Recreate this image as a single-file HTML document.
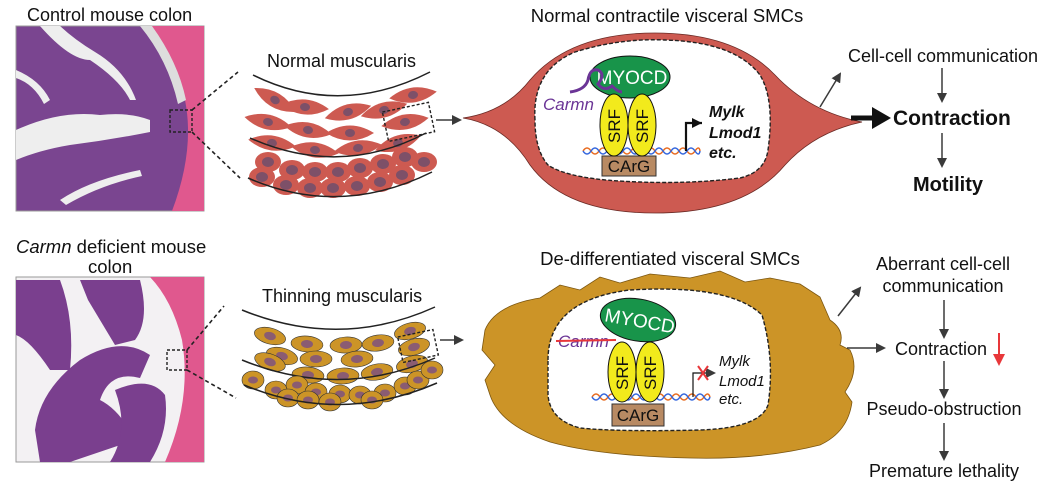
<!DOCTYPE html>
<html><head><meta charset="utf-8"><style>
html,body{margin:0;padding:0;background:#fff;}
svg{display:block;font-family:"Liberation Sans",Arial,sans-serif;}
</style></head><body>
<svg width="1054" height="490" viewBox="0 0 1054 490" xmlns="http://www.w3.org/2000/svg">
<defs>
<marker id="ah" markerWidth="10" markerHeight="10" refX="8" refY="5" orient="auto" markerUnits="userSpaceOnUse"><path d="M0,0 L10,5 L0,10Z" fill="#3a3a3a"/></marker>
<marker id="ahr" markerWidth="12" markerHeight="12" refX="10" refY="6" orient="auto" markerUnits="userSpaceOnUse"><path d="M0,0 L12,6 L0,12Z" fill="#e8373a"/></marker>
<marker id="ahb" markerWidth="12" markerHeight="12" refX="10" refY="5" orient="auto" markerUnits="userSpaceOnUse"><path d="M0,0 L10,5 L0,10Z" fill="#111"/></marker>
<g id="sp"><path d="M-24,0 Q0,-15 24,0 Q0,15 -24,0Z" fill="#cd5a51"/><ellipse cx="0" cy="0" rx="5" ry="4" fill="#7d5068"/></g>
<g id="rc"><ellipse cx="0" cy="0" rx="13" ry="10" fill="#cd5a51"/><ellipse cx="0" cy="0" rx="6" ry="5" fill="#7d5068"/></g>
<g id="oc"><ellipse cx="0" cy="0" rx="16" ry="8" fill="#cc9427" stroke="#333" stroke-width="0.6"/><ellipse cx="0" cy="0" rx="6" ry="4" fill="#8a5c72"/></g>
<g id="orc"><ellipse cx="0" cy="0" rx="11" ry="9" fill="#cc9427" stroke="#333" stroke-width="0.6"/><ellipse cx="0" cy="0" rx="5" ry="3.5" fill="#8a5c72"/></g>
</defs>

<!-- top histology -->
<text x="27" y="21" font-size="18" fill="#111">Control mouse colon</text>
<rect x="16" y="26" width="188" height="185" fill="#7a4590" stroke="#999"/>
<path d="M16,130 Q60,110 100,115 Q130,112 150,120 L150,132 Q110,140 70,145 Q40,150 16,160Z" fill="#eee"/>
<path d="M40,26 Q70,60 90,60 Q120,80 130,100 L136,100 Q125,70 95,52 Q75,40 60,26Z" fill="#eee"/>
<path d="M16,70 Q40,80 50,100 L44,104 Q34,84 16,78Z" fill="#eee"/>
<path d="M60,200 Q90,180 140,170 L142,176 Q100,185 66,205Z" fill="#eee"/>
<path d="M150,26 L204,26 L204,211 L172,211 Q195,150 185,100 Q175,60 150,26Z" fill="#e0588e"/>
<path d="M140,26 L152,26 Q178,62 186,100 L178,104 Q168,60 140,26Z" fill="#ddd"/>
<rect x="170" y="110" width="22" height="22" fill="none" stroke="#222" stroke-dasharray="3,2" stroke-width="1.4"/>
<line x1="192" y1="110" x2="238" y2="72" stroke="#222" stroke-width="1.6" stroke-dasharray="4,3"/>
<line x1="192" y1="132" x2="240" y2="178" stroke="#222" stroke-width="1.6" stroke-dasharray="4,3"/>

<!-- normal muscularis -->
<text x="267" y="67" font-size="18" fill="#111">Normal muscularis</text>
<path d="M253,75 Q340,118 430,72" fill="none" stroke="#222" stroke-width="1.5"/>
<use href="#sp" transform="translate(275,100) rotate(30)"/>
<use href="#sp" transform="translate(305,107) rotate(5)"/>
<use href="#sp" transform="translate(348,112) rotate(-15)"/>
<use href="#sp" transform="translate(384,110) rotate(-15)"/>
<use href="#sp" transform="translate(413,95) rotate(-8)"/>
<use href="#sp" transform="translate(268,122) rotate(12)"/>
<use href="#sp" transform="translate(308,130) rotate(10)"/>
<use href="#sp" transform="translate(350,133) rotate(0)"/>
<use href="#sp" transform="translate(405,122) rotate(-10)"/>
<use href="#sp" transform="translate(272,143) rotate(8)"/>
<use href="#sp" transform="translate(315,150) rotate(8)"/>
<use href="#sp" transform="translate(358,148) rotate(-8)"/>
<use href="#sp" transform="translate(398,143) rotate(-18)"/>
<path d="M250,138 Q340,178 426,133" fill="none" stroke="#222" stroke-width="1.5"/>
<use href="#rc" transform="translate(268,162)"/>
<use href="#rc" transform="translate(292,170)"/>
<use href="#rc" transform="translate(315,172)"/>
<use href="#rc" transform="translate(338,172)"/>
<use href="#rc" transform="translate(360,168)"/>
<use href="#rc" transform="translate(383,164)"/>
<use href="#rc" transform="translate(405,157)"/>
<use href="#rc" transform="translate(424,162)"/>
<use href="#rc" transform="translate(262,177)"/>
<use href="#rc" transform="translate(286,185)"/>
<use href="#rc" transform="translate(310,188)"/>
<use href="#rc" transform="translate(333,188)"/>
<use href="#rc" transform="translate(357,186)"/>
<use href="#rc" transform="translate(380,182)"/>
<use href="#rc" transform="translate(402,175)"/>
<path d="M248,178 Q340,218 432,172" fill="none" stroke="#222" stroke-width="1.5"/>
<rect x="385" y="107" width="47" height="30" fill="none" stroke="#222" stroke-dasharray="3,2" stroke-width="1.4" transform="rotate(-12 408 122)"/>
<line x1="436" y1="120" x2="460" y2="120" stroke="#3a3a3a" stroke-width="1.5" marker-end="url(#ah)"/>

<!-- normal SMC -->
<text x="667" y="22" font-size="18.5" fill="#111" text-anchor="middle">Normal contractile visceral SMCs</text>
<path d="M463,118 Q505,112 530,80 Q570,33 655,33 Q735,33 775,75 Q810,112 862,122 Q815,132 785,165 Q745,213 655,213 Q565,213 530,165 Q505,125 463,118Z" fill="#cd5a51" stroke="#6a2a25" stroke-width="0.8"/>
<path d="M535,120 Q532,70 575,52 Q620,38 665,40 Q735,42 760,75 Q775,100 768,150 Q765,172 740,178 Q690,184 640,182 Q570,180 548,165 Q535,150 535,120Z" fill="#fff" stroke="#222" stroke-width="1.4" stroke-dasharray="4,2"/>
<ellipse cx="630" cy="77" rx="40" ry="21" fill="#18944a" stroke="#111"/>
<text x="632" y="84" font-size="19" fill="#fff" text-anchor="middle">MYOCD</text>
<path d="M570,92 Q585,90 588,80 Q590,68 598,70 Q606,74 598,84 Q604,92 612,86 Q618,92 622,92" fill="none" stroke="#6b3596" stroke-width="3"/>
<text x="543" y="110" font-size="17" font-style="italic" fill="#6b3596">Carmn</text>
<path d="M583,151 q4,-6 8,0 t8,0 t8,0 t8,0 t8,0 t8,0 t8,0 t8,0 t8,0 t8,0 t8,0 t8,0 t8,0 t8,0 t5,0" fill="none" stroke="#e86a1e" stroke-width="1.5"/>
<path d="M583,151 q4,6 8,0 t8,0 t8,0 t8,0 t8,0 t8,0 t8,0 t8,0 t8,0 t8,0 t8,0 t8,0 t8,0 t8,0 t5,0" fill="none" stroke="#3366dd" stroke-width="1.5"/>
<rect x="602" y="156" width="54" height="20" fill="#b88a63" stroke="#333"/>
<text x="629" y="172" font-size="17" fill="#111" text-anchor="middle">CArG</text>
<ellipse cx="614" cy="125" rx="14" ry="31" fill="#f2ea1c" stroke="#111"/>
<ellipse cx="642" cy="125" rx="14" ry="31" fill="#f2ea1c" stroke="#111"/>
<text transform="translate(620,126) rotate(-90)" font-size="17" fill="#111" text-anchor="middle">SRF</text>
<text transform="translate(648,126) rotate(-90)" font-size="17" fill="#111" text-anchor="middle">SRF</text>
<polyline points="686,151 686,123 702,123" fill="none" stroke="#111" stroke-width="2.2" marker-end="url(#ahb)"/>
<text x="709" y="117" font-size="16" font-weight="bold" font-style="italic" fill="#111">Mylk</text>
<text x="709" y="138" font-size="16" font-weight="bold" font-style="italic" fill="#111">Lmod1</text>
<text x="709" y="158" font-size="16" font-weight="bold" font-style="italic" fill="#111">etc.</text>

<!-- top right -->
<line x1="820" y1="107" x2="840" y2="74" stroke="#3a3a3a" stroke-width="1.5" marker-end="url(#ah)"/>
<text x="943" y="62" font-size="18" fill="#111" text-anchor="middle">Cell-cell communication</text>
<line x1="942" y1="68" x2="942" y2="101" stroke="#3a3a3a" stroke-width="1.5" marker-end="url(#ah)"/>
<line x1="851" y1="118" x2="880" y2="118" stroke="#111" stroke-width="5"/>
<path d="M872,107 L891,118 L872,129Z" fill="#111"/>
<text x="893" y="125" font-size="21" font-weight="bold" fill="#111">Contraction</text>
<line x1="942" y1="133" x2="942" y2="166" stroke="#3a3a3a" stroke-width="1.5" marker-end="url(#ah)"/>
<text x="948" y="191" font-size="20" font-weight="bold" fill="#111" text-anchor="middle">Motility</text>

<!-- bottom histology -->
<text x="16" y="253" font-size="18.5" fill="#111"><tspan font-style="italic">Carmn</tspan> deficient mouse</text>
<text x="88" y="273" font-size="18.5" fill="#111">colon</text>
<rect x="16" y="277" width="188" height="185" fill="#f3f1f3" stroke="#999"/>
<path d="M16,280 L60,280 Q75,320 70,370 L50,370 Q30,340 16,335Z" fill="#7a3f8e"/>
<path d="M80,280 L140,280 Q150,320 135,340 L115,345 Q100,320 88,300Z" fill="#7a3f8e"/>
<path d="M35,430 Q40,390 80,360 Q120,335 150,355 L140,378 Q110,370 100,400 Q120,410 135,440 L70,462 L40,462Z" fill="#7a3f8e"/>
<path d="M115,390 Q150,375 165,395 Q170,430 150,462 L110,462 Q130,430 115,390Z" fill="#7a3f8e"/>
<path d="M150,277 L204,277 L204,462 L165,462 Q192,400 182,340 Q172,300 150,277Z" fill="#e0588e"/>
<rect x="167" y="350" width="20" height="20" fill="none" stroke="#222" stroke-dasharray="3,2" stroke-width="1.4"/>
<line x1="187" y1="350" x2="224" y2="306" stroke="#222" stroke-width="1.6" stroke-dasharray="4,3"/>
<line x1="187" y1="370" x2="236" y2="398" stroke="#222" stroke-width="1.6" stroke-dasharray="4,3"/>

<!-- thinning muscularis -->
<text x="262" y="302" font-size="18" fill="#111">Thinning muscularis</text>
<path d="M242,310 Q340,350 435,307" fill="none" stroke="#222" stroke-width="1.5"/>
<use href="#oc" transform="translate(270,336) rotate(15)"/>
<use href="#oc" transform="translate(307,344) rotate(5)"/>
<use href="#oc" transform="translate(346,345) rotate(-3)"/>
<use href="#oc" transform="translate(378,343) rotate(-8)"/>
<use href="#oc" transform="translate(410,331) rotate(-15)"/>
<use href="#oc" transform="translate(282,356) rotate(15)"/>
<use href="#oc" transform="translate(316,359) rotate(0)"/>
<use href="#oc" transform="translate(357,359) rotate(-5)"/>
<use href="#oc" transform="translate(414,347) rotate(-15)"/>
<use href="#oc" transform="translate(270,362) rotate(20)"/>
<use href="#oc" transform="translate(308,375) rotate(5)"/>
<use href="#oc" transform="translate(343,376) rotate(-3)"/>
<use href="#oc" transform="translate(377,372) rotate(-10)"/>
<use href="#oc" transform="translate(412,364) rotate(-15)"/>
<path d="M242,360 Q340,400 435,358" fill="none" stroke="#222" stroke-width="1.5"/>
<use href="#orc" transform="translate(253,380)"/>
<use href="#orc" transform="translate(276,390)"/>
<use href="#orc" transform="translate(297,385)"/>
<use href="#orc" transform="translate(316,392)"/>
<use href="#orc" transform="translate(340,394)"/>
<use href="#orc" transform="translate(360,395)"/>
<use href="#orc" transform="translate(385,393)"/>
<use href="#orc" transform="translate(405,386)"/>
<use href="#orc" transform="translate(418,380)"/>
<use href="#orc" transform="translate(432,370)"/>
<use href="#orc" transform="translate(288,398)"/>
<use href="#orc" transform="translate(308,400)"/>
<use href="#orc" transform="translate(330,402)"/>
<use href="#orc" transform="translate(372,400)"/>
<path d="M244,385 Q340,425 437,383" fill="none" stroke="#222" stroke-width="1.5"/>
<rect x="400" y="333" width="36" height="26" fill="none" stroke="#222" stroke-dasharray="3,2" stroke-width="1.4" transform="rotate(-12 418 346)"/>
<line x1="440" y1="340" x2="462" y2="340" stroke="#3a3a3a" stroke-width="1.5" marker-end="url(#ah)"/>

<!-- de-differentiated SMC -->
<text x="670" y="265" font-size="18.5" fill="#111" text-anchor="middle">De-differentiated visceral SMCs</text>
<path d="M485,330 Q495,305 540,298 L560,285 L580,290 L600,277 L620,283 L650,274 L690,278 L720,271 L745,282 L770,278 L800,284 L820,297 L830,320 Q845,330 840,345 L850,350 Q860,370 845,392 L852,402 Q848,432 820,445 Q760,460 690,458 Q600,456 550,442 Q500,425 490,395 L485,380 L495,365 L482,350Z" fill="#cc9427" stroke="#7a5510" stroke-width="0.8"/>
<path d="M548,360 Q548,300 630,290 Q730,284 762,315 Q775,360 768,405 Q760,428 700,430 Q620,432 580,428 Q550,420 548,395Z" fill="#fff" stroke="#222" stroke-width="1.4" stroke-dasharray="4,2"/>
<ellipse cx="638" cy="320" rx="38" ry="21" fill="#18944a" stroke="#111" transform="rotate(10 638 320)"/>
<text x="640" y="327" font-size="19" fill="#fff" text-anchor="middle" transform="rotate(10 638 320)">MYOCD</text>
<text x="558" y="347" font-size="17" font-style="italic" fill="#6b3596">Carmn</text>
<line x1="556" y1="341" x2="616" y2="340" stroke="#e8373a" stroke-width="2"/>
<path d="M592,397 q4,-6 8,0 t8,0 t8,0 t8,0 t8,0 t8,0 t8,0 t8,0 t8,0 t8,0 t8,0 t8,0 t8,0 t8,0 t6,0" fill="none" stroke="#e86a1e" stroke-width="1.5"/>
<path d="M592,397 q4,6 8,0 t8,0 t8,0 t8,0 t8,0 t8,0 t8,0 t8,0 t8,0 t8,0 t8,0 t8,0 t8,0 t8,0 t6,0" fill="none" stroke="#3366dd" stroke-width="1.5"/>
<rect x="612" y="404" width="52" height="22" fill="#b88a63" stroke="#333"/>
<text x="638" y="421" font-size="17" fill="#111" text-anchor="middle">CArG</text>
<ellipse cx="622" cy="372" rx="14" ry="30" fill="#f2ea1c" stroke="#111"/>
<ellipse cx="650" cy="372" rx="14" ry="30" fill="#f2ea1c" stroke="#111"/>
<text transform="translate(628,373) rotate(-90)" font-size="17" fill="#111" text-anchor="middle">SRF</text>
<text transform="translate(656,373) rotate(-90)" font-size="17" fill="#111" text-anchor="middle">SRF</text>
<polyline points="693,397 693,373 714,373" fill="none" stroke="#111" stroke-width="1.2" marker-end="url(#ah)"/>
<path d="M698,366 L708,380 M708,366 L698,380" stroke="#e8373a" stroke-width="2"/>
<text x="719" y="366" font-size="15" font-style="italic" fill="#111">Mylk</text>
<text x="719" y="386" font-size="15" font-style="italic" fill="#111">Lmod1</text>
<text x="719" y="404" font-size="15" font-style="italic" fill="#111">etc.</text>

<!-- bottom right -->
<line x1="838" y1="316" x2="860" y2="288" stroke="#3a3a3a" stroke-width="1.5" marker-end="url(#ah)"/>
<text x="943" y="270" font-size="18" fill="#111" text-anchor="middle">Aberrant cell-cell</text>
<text x="943" y="292" font-size="18" fill="#111" text-anchor="middle">communication</text>
<line x1="944" y1="300" x2="944" y2="337" stroke="#3a3a3a" stroke-width="1.5" marker-end="url(#ah)"/>
<line x1="847" y1="348" x2="884" y2="348" stroke="#3a3a3a" stroke-width="1.5" marker-end="url(#ah)"/>
<text x="895" y="355" font-size="18" fill="#111">Contraction</text>
<line x1="999" y1="333" x2="999" y2="364" stroke="#e8373a" stroke-width="2" marker-end="url(#ahr)"/>
<line x1="944" y1="361" x2="944" y2="397" stroke="#3a3a3a" stroke-width="1.5" marker-end="url(#ah)"/>
<text x="944" y="415" font-size="18" fill="#111" text-anchor="middle">Pseudo-obstruction</text>
<line x1="944" y1="423" x2="944" y2="459" stroke="#3a3a3a" stroke-width="1.5" marker-end="url(#ah)"/>
<text x="944" y="477" font-size="18" fill="#111" text-anchor="middle">Premature lethality</text>
</svg>
</body></html>
